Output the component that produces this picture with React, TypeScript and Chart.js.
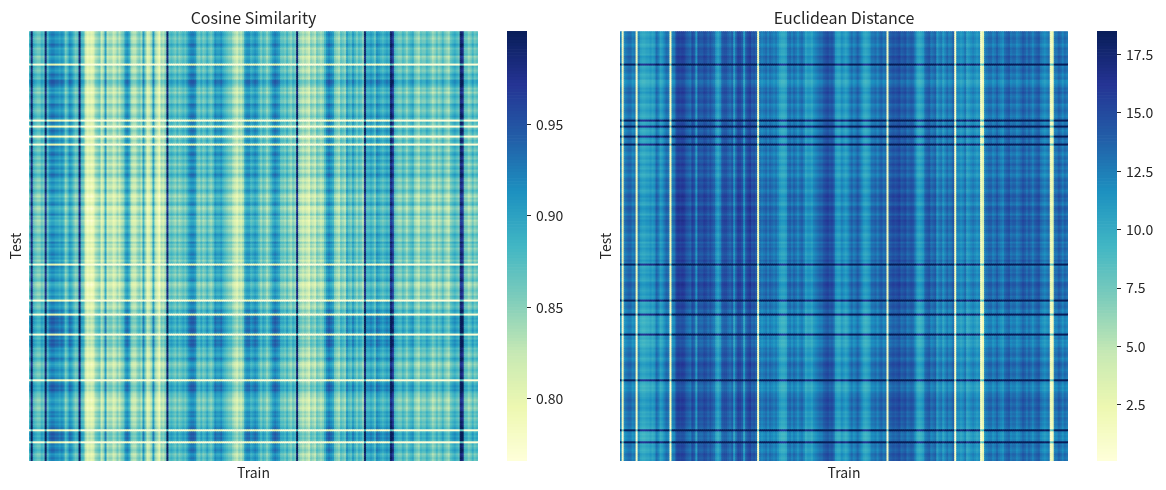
"use client"

import { useEffect, useRef } from "react"
import { Chart, registerables } from "chart.js"

Chart.register(...registerables)

const FONT = "'Noto Sans CJK KR', 'Noto Sans', sans-serif"
const TEXT = "#262626"

// matplotlib YlGnBu stops
const YLGNBU = ["#ffffd9", "#edf8b1", "#c7e9b4", "#7fcdbb", "#41b6c4", "#1d91c0", "#225ea8", "#253494", "#081d58"]

const COS_RANGE = [0.766, 1.001]
const EUC_RANGE = [0.1, 18.5]
const COS_TICKS = [0.8, 0.85, 0.9, 0.95]
const EUC_TICKS = [2.5, 5, 7.5, 10, 12.5, 15, 17.5]

// column (train) profile of cosine similarity
const COS_COLS = [
  0.88, 0.99, 0.88, 0.87, 0.86, 0.86, 0.88, 0.87, 0.99, 0.88, 0.91, 0.92, 0.92, 0.91, 0.91,
  0.90, 0.91, 0.90, 0.86, 0.88, 0.91, 0.90, 0.88, 0.86, 0.87, 0.99, 0.88, 0.87, 0.82, 0.80,
  0.81, 0.80, 0.81, 0.84, 0.85, 0.86, 0.82, 0.84, 0.90, 0.83, 0.84, 0.84, 0.82, 0.83, 0.85,
  0.83, 0.85, 0.86, 0.90, 0.91, 0.89, 0.84, 0.83, 0.83, 0.85, 0.86, 0.84, 0.90, 0.85, 0.81,
  0.82, 0.84, 0.90, 0.84, 0.82, 0.80, 0.84, 0.83, 0.85, 0.99, 0.87, 0.88, 0.87, 0.86, 0.88,
  0.86, 0.87, 0.88, 0.87, 0.89, 0.91, 0.92, 0.92, 0.91, 0.87, 0.86, 0.88, 0.86, 0.87, 0.89,
  0.87, 0.86, 0.88, 0.91, 0.90, 0.90, 0.91, 0.89, 0.88, 0.87, 0.86, 0.86, 0.84, 0.83, 0.82,
  0.84, 0.83, 0.85, 0.90, 0.91, 0.91, 0.89, 0.90, 0.91, 0.90, 0.88, 0.86, 0.88, 0.87, 0.85,
  0.87, 0.89, 0.91, 0.92, 0.91, 0.90, 0.87, 0.87, 0.86, 0.88, 0.86, 0.85, 0.87, 0.86, 0.99,
  0.85, 0.84, 0.83, 0.84, 0.83, 0.82, 0.85, 0.84, 0.83, 0.86, 0.85, 0.84, 0.85, 0.88, 0.91,
  0.92, 0.91, 0.90, 0.86, 0.85, 0.84, 0.87, 0.86, 0.85, 0.90, 0.88, 0.87, 0.90, 0.88, 0.86,
  0.88, 0.87, 0.85, 0.99, 0.89, 0.89, 0.90, 0.89, 0.87, 0.91, 0.90, 0.89, 0.88, 0.89, 0.90,
  0.89, 0.99, 0.97, 0.88, 0.87, 0.86, 0.86, 0.88, 0.87, 0.85, 0.87, 0.88, 0.89, 0.86, 0.85,
  0.84, 0.87, 0.86, 0.86, 0.88, 0.87, 0.86, 0.84, 0.85, 0.87, 0.85, 0.86, 0.88, 0.86, 0.85,
  0.84, 0.87, 0.88, 0.89, 0.88, 0.87, 0.99, 0.98, 0.87, 0.87, 0.85, 0.86, 0.88, 0.86, 0.87,
]

// row (test) offsets of cosine similarity
const COS_ROWS = [
  0.00, 0.01, 0.00, -0.01, 0.00, 0.00, 0.02, 0.01, -0.01, 0.00, 0.00, 0.01, -0.02, -0.01, 0.00,
  0.00, -0.12, 0.01, 0.00, -0.01, 0.00, 0.02, 0.01, 0.00, 0.03, 0.03, 0.02, 0.01, -0.01, 0.00,
  -0.02, 0.00, 0.01, 0.00, -0.01, -0.01, 0.02, 0.01, 0.00, -0.01, 0.00, 0.01, 0.02, 0.00, -0.12,
  0.01, 0.00, -0.12, 0.00, 0.02, 0.01, 0.00, -0.12, -0.01, 0.01, 0.00, -0.12, 0.01, 0.00, -0.01,
  0.01, 0.02, 0.00, -0.01, 0.01, 0.00, -0.02, 0.00, 0.01, -0.01, 0.00, 0.02, 0.01, -0.01, -0.02,
  0.00, -0.01, -0.02, -0.01, 0.01, 0.00, -0.02, -0.03, -0.01, -0.02, 0.00, 0.01, -0.02, -0.03, -0.02,
  -0.01, 0.01, -0.02, -0.01, -0.03, -0.02, -0.02, 0.00, -0.01, -0.02, -0.01, 0.01, 0.00, -0.01, -0.02,
  0.01, -0.01, 0.00, -0.02, -0.01, 0.00, 0.01, -0.01, 0.00, -0.02, 0.00, -0.12, 0.01, 0.00, -0.01,
  0.00, -0.02, -0.01, 0.00, 0.01, -0.02, -0.03, -0.02, -0.01, 0.00, -0.01, -0.02, 0.00, -0.01, -0.12,
  0.01, 0.00, -0.01, 0.00, 0.02, 0.01, -0.12, 0.02, 0.03, 0.02, 0.03, 0.02, 0.01, 0.02, 0.03,
  0.02, -0.12, 0.02, 0.01, 0.03, 0.02, 0.03, 0.02, 0.00, 0.01, 0.00, -0.01, 0.00, 0.02, 0.01,
  -0.01, -0.02, -0.01, 0.00, 0.01, 0.00, -0.01, 0.00, 0.01, -0.12, 0.01, 0.02, 0.03, 0.02, 0.03,
  0.01, 0.00, 0.00, -0.01, -0.02, -0.01, 0.00, -0.01, -0.02, -0.01, 0.01, 0.00, 0.01, -0.01, 0.00,
  0.01, 0.00, 0.01, 0.02, -0.12, 0.02, 0.03, 0.02, 0.03, 0.02, -0.12, 0.01, 0.00, 0.01, 0.02,
  0.01, -0.01, 0.00, 0.01, 0.00,
]

// column (train) profile of euclidean distance
const EUC_COLS = [
  12.3, 1.5, 12.3, 12.8, 13.3, 13.3, 12.3, 12.8, 1.5, 12.3, 10.6, 10.2, 10.2, 10.6, 10.6,
  11.2, 10.6, 11.2, 13.3, 12.3, 10.6, 11.2, 12.3, 13.3, 12.8, 1.5, 12.3, 12.8, 15.0, 15.5,
  15.2, 15.5, 15.2, 14.2, 13.8, 13.3, 15.0, 14.2, 11.2, 14.6, 14.2, 14.2, 15.0, 14.6, 13.8,
  14.6, 13.8, 13.3, 11.2, 10.6, 11.8, 14.2, 14.6, 14.6, 13.8, 13.3, 14.2, 11.2, 13.8, 15.2,
  15.0, 14.2, 11.2, 14.2, 15.0, 15.5, 14.2, 14.6, 13.8, 1.5, 12.8, 12.3, 12.8, 13.3, 12.3,
  13.3, 12.8, 12.3, 12.8, 11.8, 10.6, 10.2, 10.2, 10.6, 12.8, 13.3, 12.3, 13.3, 12.8, 11.8,
  12.8, 13.3, 12.3, 10.6, 11.2, 11.2, 10.6, 11.8, 12.3, 12.8, 13.3, 13.3, 14.2, 14.6, 15.0,
  14.2, 14.6, 13.8, 11.2, 10.6, 10.6, 11.8, 11.2, 10.6, 11.2, 12.3, 13.3, 12.3, 12.8, 13.8,
  12.8, 11.8, 10.6, 10.2, 10.6, 11.2, 12.8, 12.8, 13.3, 12.3, 13.3, 13.8, 12.8, 13.3, 1.5,
  13.8, 14.2, 14.6, 14.2, 14.6, 15.0, 13.8, 14.2, 14.6, 13.3, 13.8, 14.2, 13.8, 12.3, 10.6,
  10.2, 10.6, 11.2, 13.3, 13.8, 14.2, 12.8, 13.3, 13.8, 11.2, 12.3, 12.8, 11.2, 12.3, 13.3,
  12.3, 12.8, 13.8, 1.5, 11.8, 11.8, 11.2, 11.8, 12.8, 10.6, 11.2, 11.8, 12.3, 11.8, 11.2,
  11.8, 1.5, 3.0, 12.3, 12.8, 13.3, 13.3, 12.3, 12.8, 13.8, 12.8, 12.3, 11.8, 13.3, 13.8,
  14.2, 12.8, 13.3, 13.3, 12.3, 12.8, 13.3, 14.2, 13.8, 12.8, 13.8, 13.3, 12.3, 13.3, 13.8,
  14.2, 12.8, 12.3, 11.8, 12.3, 12.8, 1.5, 2.5, 12.8, 12.8, 13.8, 13.3, 12.3, 13.3, 12.8,
]

// row (test) offsets of euclidean distance
const EUC_ROWS = [
  0.0, -0.4, 0.0, 0.4, 0.0, 0.0, -0.8, -0.4, 0.4, 0.0, 0.0, -0.4, 0.8, 0.4, 0.0,
  0.0, 6.0, -0.4, 0.0, 0.4, 0.0, -0.8, -0.4, 0.0, -1.2, -1.2, -0.8, -0.4, 0.4, 0.0,
  0.8, 0.0, -0.4, 0.0, 0.4, 0.4, -0.8, -0.4, 0.0, 0.4, 0.0, -0.4, -0.8, 0.0, 6.0,
  -0.4, 0.0, 6.0, 0.0, -0.8, -0.4, 0.0, 6.0, 0.4, -0.4, 0.0, 6.0, -0.4, 0.0, 0.4,
  -0.4, -0.8, 0.0, 0.4, -0.4, 0.0, 0.8, 0.0, -0.4, 0.4, 0.0, -0.8, -0.4, 0.4, 0.8,
  0.0, 0.4, 0.8, 0.4, -0.4, 0.0, 0.8, 1.2, 0.4, 0.8, 0.0, -0.4, 0.8, 1.2, 0.8,
  0.4, -0.4, 0.8, 0.4, 1.2, 0.8, 0.8, 0.0, 0.4, 0.8, 0.4, -0.4, 0.0, 0.4, 0.8,
  -0.4, 0.4, 0.0, 0.8, 0.4, 0.0, -0.4, 0.4, 0.0, 0.8, 0.0, 6.0, -0.4, 0.0, 0.4,
  0.0, 0.8, 0.4, 0.0, -0.4, 0.8, 1.2, 0.8, 0.4, 0.0, 0.4, 0.8, 0.0, 0.4, 6.0,
  -0.4, 0.0, 0.4, 0.0, -0.8, -0.4, 6.0, -0.8, -1.2, -0.8, -1.2, -0.8, -0.4, -0.8, -1.2,
  -0.8, 6.0, -0.8, -0.4, -1.2, -0.8, -1.2, -0.8, 0.0, -0.4, 0.0, 0.4, 0.0, -0.8, -0.4,
  0.4, 0.8, 0.4, 0.0, -0.4, 0.0, 0.4, 0.0, -0.4, 6.0, -0.4, -0.8, -1.2, -0.8, -1.2,
  -0.4, 0.0, 0.0, 0.4, 0.8, 0.4, 0.0, 0.4, 0.8, 0.4, -0.4, 0.0, -0.4, 0.4, 0.0,
  -0.4, 0.0, -0.4, -0.8, 6.0, -0.8, -1.2, -0.8, -1.2, -0.8, 6.0, -0.4, 0.0, -0.4, -0.8,
  -0.4, 0.4, 0.0, -0.4, 0.0,
]

const hexRgb = (h: string) => [1, 3, 5].map((k) => parseInt(h.slice(k, k + 2), 16))

function cmap(t: number) {
  const x = Math.min(1, Math.max(0, t)) * (YLGNBU.length - 1)
  const i = Math.min(Math.floor(x), YLGNBU.length - 2)
  const f = x - i
  const a = hexRgb(YLGNBU[i])
  const b = hexRgb(YLGNBU[i + 1])
  const c = a.map((v, k) => Math.round(v + (b[k] - v) * f))
  return `rgb(${c[0]}, ${c[1]}, ${c[2]})`
}

const font = (size: number) => ({ family: FONT, size, weight: "normal" as const })

type HeatmapProps = {
  left: number
  width: number
  yAxisWidth: number
  title: string
  cols: number[]
  rows: number[]
  range: number[]
}

function Heatmap({ left, width, yAxisWidth, title, cols, rows, range }: HeatmapProps) {
  const ref = useRef<HTMLCanvasElement>(null)

  useEffect(() => {
    if (!ref.current) return
    const [vmin, vmax] = range

    // one stacked dataset per test row, one bar per train column
    const datasets = rows.map((r, i) => ({
      label: `test ${i}`,
      data: cols.map(() => 1),
      backgroundColor: cols.map((c) => {
        const v = Math.min(vmax, Math.max(vmin, c + r))
        return cmap((v - vmin) / (vmax - vmin))
      }),
      borderWidth: 0,
      barPercentage: 1,
      categoryPercentage: 1,
    }))

    const chart = new Chart(ref.current, {
      type: "bar",
      data: { labels: cols.map((_, i) => `train ${i}`), datasets },
      options: {
        responsive: false,
        animation: false,
        events: [],
        layout: { padding: 0 },
        plugins: {
          legend: { display: false },
          tooltip: { enabled: false },
          title: {
            display: true,
            text: title,
            fullSize: false,
            color: TEXT,
            font: font(16),
            padding: { top: 8, bottom: 4 },
          },
        },
        scales: {
          x: {
            stacked: true,
            ticks: { display: false },
            grid: { display: false },
            border: { display: false },
            title: { display: true, text: "Train", color: TEXT, font: font(14), padding: { top: 0, bottom: 9 } },
            afterFit: (s: any) => {
              s.height = 29
            },
          },
          y: {
            stacked: true,
            reverse: true,
            min: 0,
            max: rows.length,
            ticks: { display: false },
            grid: { display: false },
            border: { display: false },
            title: { display: true, text: "Test", color: TEXT, font: font(14), padding: { top: 7, bottom: 0 } },
            afterFit: (s: any) => {
              s.width = yAxisWidth
            },
          },
        },
      },
    } as any)

    return () => chart.destroy()
  }, [])

  return <canvas ref={ref} width={width} height={490} style={{ position: "absolute", left, top: 0 }} />
}

type ColorbarProps = {
  left: number
  width: number
  axisWidth: number
  range: number[]
  ticks: number[]
  decimals: number
}

function Colorbar({ left, width, axisWidth, range, ticks, decimals }: ColorbarProps) {
  const ref = useRef<HTMLCanvasElement>(null)

  useEffect(() => {
    if (!ref.current) return
    const [vmin, vmax] = range
    const n = 140
    const step = (vmax - vmin) / n

    const datasets = Array.from({ length: n }, (_, k) => ({
      data: [[vmin + k * step, vmin + (k + 1) * step]],
      backgroundColor: cmap((k + 0.5) / n),
      borderWidth: 0,
      barPercentage: 1,
      categoryPercentage: 1,
      grouped: false,
    }))

    const chart = new Chart(ref.current, {
      type: "bar",
      data: { labels: [""], datasets },
      options: {
        responsive: false,
        animation: false,
        events: [],
        layout: { padding: { top: 31, bottom: 29, left: 0, right: 0 } },
        plugins: { legend: { display: false }, tooltip: { enabled: false } },
        scales: {
          x: { display: false },
          y: {
            position: "right",
            min: vmin,
            max: vmax,
            afterBuildTicks: (s: any) => {
              s.ticks = ticks.map((value) => ({ value }))
            },
            ticks: {
              color: TEXT,
              font: font(14),
              padding: 5,
              callback: (v: any) => Number(v).toFixed(decimals),
            },
            grid: { drawOnChartArea: false, tickLength: 4, color: TEXT, lineWidth: 1 },
            border: { display: false },
            afterFit: (s: any) => {
              s.width = axisWidth
            },
          },
        },
      },
    } as any)

    return () => chart.destroy()
  }, [])

  return <canvas ref={ref} width={width} height={490} style={{ position: "absolute", left, top: 0 }} />
}

export default function App() {
  return (
    <div style={{ position: "fixed", left: 0, top: 0, width: 1166, height: 490, background: "#fff", overflow: "hidden" }}>
      <Heatmap left={0} width={478} yAxisWidth={29} title="Cosine Similarity" cols={COS_COLS} rows={COS_ROWS} range={COS_RANGE} />
      <Colorbar left={507} width={60} axisWidth={40} range={COS_RANGE} ticks={COS_TICKS} decimals={2} />
      <Heatmap left={590} width={478} yAxisWidth={30} title="Euclidean Distance" cols={EUC_COLS} rows={EUC_ROWS} range={EUC_RANGE} />
      <Colorbar left={1097} width={69} axisWidth={49} range={EUC_RANGE} ticks={EUC_TICKS} decimals={1} />
    </div>
  )
}
